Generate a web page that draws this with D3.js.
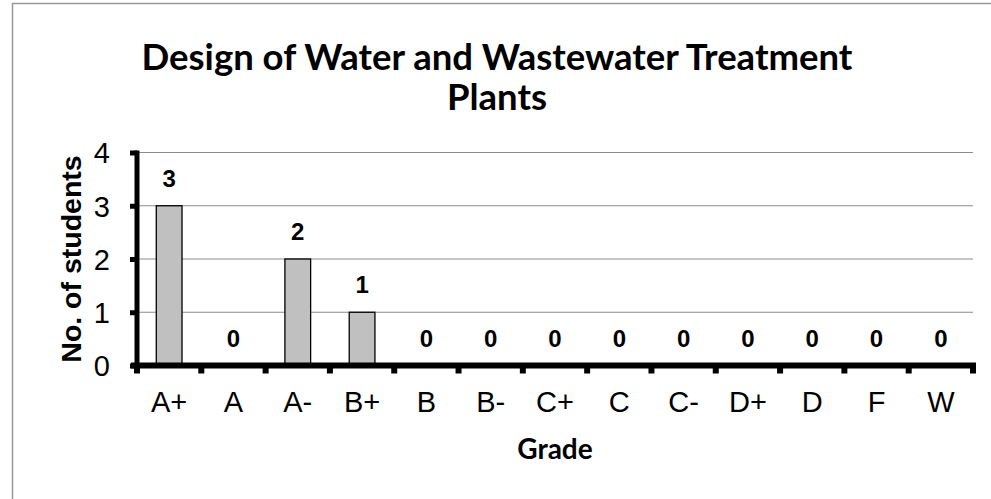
<!DOCTYPE html>
<html>
<head>
<meta charset="utf-8">
<script src="https://cdn.jsdelivr.net/npm/d3@7"></script>
<style>
html,body{margin:0;padding:0;background:#fff;}
svg{display:block;}
</style>
</head>
<body>
<svg id="chart" width="991" height="499"></svg>
<script>
const titleLines = ["Design of Water and Wastewater Treatment", "Plants"];
const grades = ["A+","A","A-","B+","B","B-","C+","C","C-","D+","D","F","W"];
const students = [3,0,2,1,0,0,0,0,0,0,0,0,0];
const yTicks = [0,1,2,3,4];
const xAxisTitle = "Grade";
const yAxisTitle = "No. of students";

(function () {
const svg = d3.select("#chart");

// outer chart border
svg.append("rect").attr("x", 12.5).attr("y", 3.5).attr("width", 1000).attr("height", 600)
  .attr("fill", "#fff").attr("stroke", "#999").attr("stroke-width", 1.5);

const pL = 137, pR = 973, pT = 152.5, pB = 365.5;
const x = d3.scaleBand().domain(grades).range([pL, pR]).paddingInner(0).paddingOuter(0);
const y = d3.scaleLinear().domain([0, 4]).range([pB, pT]);

// gridlines
svg.append("g").selectAll("line").data(yTicks.filter(d => d > 0)).join("line")
  .attr("x1", pL).attr("x2", pR)
  .attr("y1", d => y(d)).attr("y2", d => y(d))
  .attr("stroke", "#8c8c8c").attr("stroke-width", 1.2);

// bars
const bw = x.bandwidth() * 0.4;
svg.append("g").selectAll("rect").data(grades).join("rect")
  .attr("x", (d) => x(d) + (x.bandwidth() - bw) / 2)
  .attr("y", (d, i) => y(students[i]))
  .attr("width", bw)
  .attr("height", (d, i) => y(0) - y(students[i]))
  .attr("fill", "#c0c0c0").attr("stroke", "#000").attr("stroke-width", 1.3);

// value labels
svg.append("g").selectAll("text").data(grades).join("text")
  .attr("x", d => x(d) + x.bandwidth() / 2)
  .attr("y", (d, i) => y(students[i]) - 19)
  .attr("text-anchor", "middle")
  .attr("font-family", "Arial, 'Liberation Sans', sans-serif")
  .attr("font-weight", "bold").attr("font-size", 24)
  .text((d, i) => students[i]);

// y axis
const yAxis = d3.axisLeft(y).tickValues(yTicks).tickSize(7).tickPadding(20).tickFormat(d3.format("d"));
const gy = svg.append("g").attr("transform", `translate(${pL},0)`).call(yAxis);
gy.select(".domain").attr("stroke", "#000").attr("stroke-width", 5).attr("d", `M0,${pT-2}V${pB}`);
gy.selectAll(".tick line").attr("stroke", "#000").attr("stroke-width", 5).attr("x1", 0);
gy.selectAll(".tick text").attr("font-family", "Arial, 'Liberation Sans', sans-serif")
  .attr("font-size", 29).attr("fill", "#000").attr("dy", "0.36em");

// x axis
const xTickPos = grades.map(g => x(g)).concat([pR]);
const xAxis = d3.axisBottom(x).tickSize(0).tickPadding(26);
const gx = svg.append("g").attr("transform", `translate(0,${pB})`).call(xAxis);
gx.select(".domain").attr("stroke", "#000").attr("stroke-width", 6).attr("d", `M${pL-6},0H${pR+3}`);
gx.selectAll(".tick text").attr("font-family", "Arial, 'Liberation Sans', sans-serif")
  .attr("font-size", 29).attr("fill", "#000").attr("dy", "0.71em");
gx.selectAll("line.minor").data(xTickPos).join("line").attr("class", "minor")
  .attr("x1", d => d).attr("x2", d => d).attr("y1", 0).attr("y2", 8)
  .attr("stroke", "#000").attr("stroke-width", 6);

// titles
const tfont = "Lato, 'Open Sans', sans-serif";
titleLines.forEach((t, i) => {
  svg.append("text").attr("x", 497).attr("y", 70 + i * 40)
    .attr("text-anchor", "middle").attr("font-family", tfont)
    .attr("font-weight", "bold").attr("font-size", 36.5).attr("fill", "#000").text(t);
});

svg.append("text").attr("x", pL + (pR - pL) / 2).attr("y", 459)
  .attr("text-anchor", "middle").attr("font-family", tfont)
  .attr("font-weight", "bold").attr("font-size", 28).attr("fill", "#000").text(xAxisTitle);

svg.append("text").attr("transform", `translate(81,${(pT + pB) / 2}) rotate(-90)`)
  .attr("text-anchor", "middle").attr("font-family", "Arial, 'Liberation Sans', sans-serif")
  .attr("font-weight", "bold").attr("font-size", 28.5).attr("fill", "#000").text(yAxisTitle);
})();
</script>
</body>
</html>
